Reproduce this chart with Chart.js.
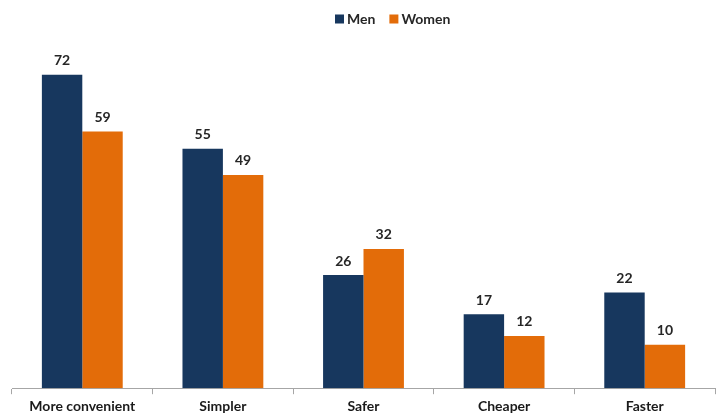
<!DOCTYPE html>
<html>
<head>
<meta charset="utf-8">
<script src="https://cdn.jsdelivr.net/npm/chart.js@4"></script>
<style>
  html, body { margin: 0; padding: 0; background: #fff; }
  #wrap { width: 716px; height: 414px; }
</style>
</head>
<body>
<div id="wrap"><canvas id="reasonChart"></canvas></div>
<script>
// Data
const categories = ['More convenient', 'Simpler', 'Safer', 'Cheaper', 'Faster'];
const menValues = [72, 55, 26, 17, 22];
const womenValues = [59, 49, 32, 12, 10];
const seriesNames = ['Men', 'Women'];
const seriesColors = ['#17375e', '#e36c09'];

// label angka di atas batang
const valueLabels = {
  id: 'valueLabels',
  afterDatasetsDraw(chart) {
    const ctx = chart.ctx;
    ctx.save();
    ctx.font = 'bold 14px Lato';
    ctx.fillStyle = '#262626';
    ctx.textAlign = 'center';
    ctx.textBaseline = 'bottom';
    chart.data.datasets.forEach((ds, i) => {
      chart.getDatasetMeta(i).data.forEach((bar, j) => {
        ctx.fillText(ds.data[j], bar.x, bar.y - 7);
      });
    });
    ctx.restore();
  }
};

// legend manual (posisinya agak ke kanan seperti aslinya)
const topLegend = {
  id: 'topLegend',
  afterDraw(chart) {
    const ctx = chart.ctx;
    ctx.save();
    ctx.font = 'bold 14px Lato';
    ctx.textBaseline = 'middle';
    let x = 335;
    const y = 19;
    seriesNames.forEach((name, i) => {
      ctx.fillStyle = seriesColors[i];
      ctx.fillRect(x, y - 4.5, 9, 9);
      ctx.fillStyle = '#262626';
      ctx.fillText(name, x + 12, y);
      x += 12 + ctx.measureText(name).width + 14;
    });
    ctx.restore();
  }
};

new Chart(document.getElementById('reasonChart'), {
  type: 'bar',
  data: {
    labels: categories,
    datasets: [
      { label: seriesNames[0], data: menValues, backgroundColor: seriesColors[0] },
      { label: seriesNames[1], data: womenValues, backgroundColor: seriesColors[1] }
    ]
  },
  options: {
    responsive: true,
    maintainAspectRatio: false,
    animation: false,
    categoryPercentage: 0.575,
    barPercentage: 1,
    layout: { padding: { left: 12, right: 1, top: 40, bottom: -5 } },
    plugins: {
      legend: { display: false },
      tooltip: { enabled: false }
    },
    scales: {
      x: {
        grid: { display: true, drawOnChartArea: false, drawTicks: true, tickLength: 6, color: '#a6a6a6', offset: true },
        border: { display: true, color: '#a6a6a6' },
        ticks: { color: '#1a1a1a', font: { family: 'Lato', size: 14, weight: 'bold', lineHeight: 1.2 }, padding: 4 }
      },
      y: {
        display: false,
        min: 0,
        max: 80
      }
    }
  },
  plugins: [valueLabels, topLegend]
});
</script>
</body>
</html>
